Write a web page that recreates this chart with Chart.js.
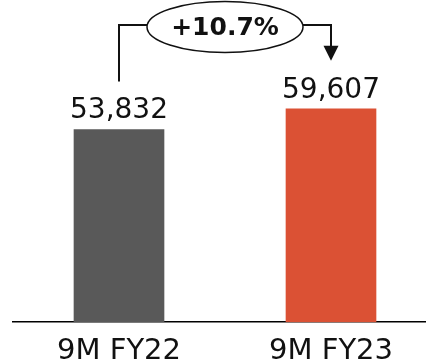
<!DOCTYPE html>
<html>
<head>
<meta charset="utf-8">
<script src="https://cdn.jsdelivr.net/npm/chart.js@4/dist/chart.umd.min.js"></script>
<style>
    html, body { margin: 0; padding: 0; background: #fff; }
    #wrap { width: 426px; height: 364px; overflow: hidden; }
    #inner { width: 437px; height: 381px; }
</style>
</head>
<body>
<div id="wrap"><div id="inner"><canvas id="revChart"></canvas></div></div>
<script>
const periods = ['9M FY22', '9M FY23'];
const revenue = [53832, 59607];
const barColors = ['#595959', '#DB5134'];

const FONT = '"DejaVu Sans", sans-serif';

// value labels above each bar
const valueLabels = {
    id: 'valueLabels',
    afterDatasetsDraw(chart) {
        const ctx = chart.ctx;
        const bars = chart.getDatasetMeta(0).data;
        ctx.save();
        ctx.font = '28px ' + FONT;
        ctx.fillStyle = '#111';
        ctx.textAlign = 'center';
        ctx.textBaseline = 'alphabetic';
        bars.forEach((bar, i) => {
            ctx.fillText(revenue[i].toLocaleString('en-US'), bar.x, bar.y - 11);
        });
        ctx.restore();
    }
};

// growth bracket with the percentage bubble
const growthBracket = {
    id: 'growthBracket',
    afterDatasetsDraw(chart) {
        const ctx = chart.ctx;
        const bars = chart.getDatasetMeta(0).data;
        const a = bars[0], b = bars[1];
        const topY = 25;
        const cx = (a.x + b.x) / 2;
        const cy = 27, rx = 78, ry = 25.5;
        const growth = (revenue[1] / revenue[0] - 1) * 100;

        ctx.save();
        ctx.strokeStyle = '#111';
        ctx.fillStyle = '#111';
        ctx.lineWidth = 2;

        // left leg
        ctx.beginPath();
        ctx.moveTo(a.x, a.y - 48);
        ctx.lineTo(a.x, topY);
        ctx.lineTo(cx - rx, topY);
        ctx.stroke();

        // right leg with arrow
        const tipY = b.y - 48;
        ctx.beginPath();
        ctx.moveTo(cx + rx, topY);
        ctx.lineTo(b.x, topY);
        ctx.lineTo(b.x, tipY - 14);
        ctx.stroke();
        ctx.beginPath();
        ctx.moveTo(b.x - 7.5, tipY - 15);
        ctx.lineTo(b.x + 7.5, tipY - 15);
        ctx.lineTo(b.x, tipY);
        ctx.closePath();
        ctx.fill();

        // bubble
        ctx.lineWidth = 1.5;
        ctx.beginPath();
        ctx.ellipse(cx, cy, rx, ry, 0, 0, Math.PI * 2);
        ctx.fillStyle = '#fff';
        ctx.fill();
        ctx.stroke();

        ctx.fillStyle = '#111';
        ctx.font = 'bold 25px ' + FONT;
        ctx.textAlign = 'center';
        ctx.textBaseline = 'middle';
        ctx.fillText('+' + growth.toFixed(1) + '%', cx, cy + 1);
        ctx.restore();
    }
};

window.onload = function() {
    const ctx = document.getElementById('revChart').getContext('2d');
    new Chart(ctx, {
        type: 'bar',
        data: {
            labels: periods,
            datasets: [{
                data: revenue,
                backgroundColor: barColors,
                borderWidth: 0,
                barThickness: 90
            }]
        },
        options: {
            responsive: true,
            maintainAspectRatio: false,
            animation: false,
            layout: {
                padding: { left: 13, right: 0, top: 0, bottom: 0 }
            },
            plugins: {
                legend: { display: false },
                tooltip: { enabled: false }
            },
            scales: {
                x: {
                    grid: { display: false, drawTicks: false },
                    border: { display: true, color: '#000', width: 1.5 },
                    ticks: {
                        color: '#111',
                        padding: 12,
                        font: { family: FONT, size: 29 }
                    }
                },
                y: {
                    display: false,
                    min: 0,
                    max: 90000
                }
            }
        },
        plugins: [valueLabels, growthBracket]
    });
};
</script>
</body>
</html>
